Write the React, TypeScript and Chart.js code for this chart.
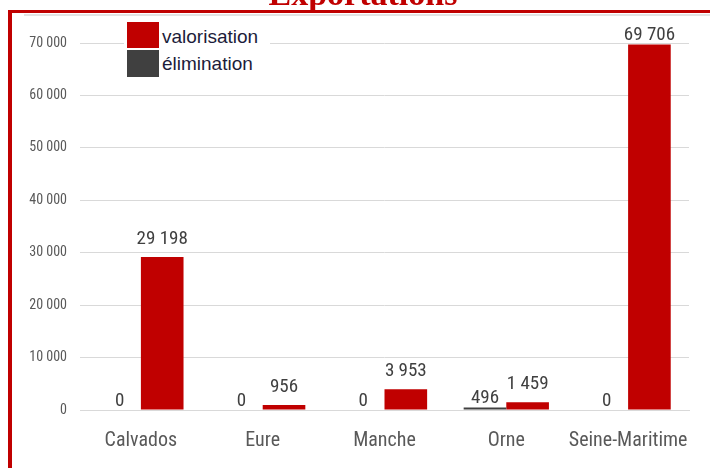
import React, { useEffect, useRef } from "react";
import { Chart, registerables } from "chart.js";

Chart.register(...registerables);

const categories = ["Calvados", "Eure", "Manche", "Orne", "Seine-Maritime"];
const elimination = [0, 0, 0, 496, 0];
const valorisation = [29198, 956, 3953, 1459, 69706];
const yTicks = [0, 10000, 20000, 30000, 40000, 50000, 60000, 70000];
const titleText = "Exportations";
const legendLabels = ["valorisation", "élimination"];

const RED = "#C00000";
const GRAY = "#404040";
const NARROW = "'Liberation Sans Narrow', 'Arial Narrow', 'Roboto Condensed', sans-serif";

const fmt = (n: number) => String(n).replace(/\B(?=(\d{3})+(?!\d))/g, " ");

const dataLabelPlugin = {
  id: "dataLabels",
  afterDatasetsDraw(chart: any) {
    const ctx = chart.ctx;
    ctx.save();
    ctx.font = `19px ${NARROW}`;
    ctx.fillStyle = "#404040";
    ctx.textAlign = "center";
    ctx.textBaseline = "alphabetic";
    chart.data.datasets.forEach((ds: any, di: number) => {
      const meta = chart.getDatasetMeta(di);
      const offset = ds.label === "élimination" ? 4 : 13;
      meta.data.forEach((el: any, i: number) => {
        const v = ds.data[i];
        let y = el.y - offset;
        y = Math.max(y, chart.chartArea.top - 3);
        ctx.fillText(fmt(v), el.x, y);
      });
    });
    ctx.restore();
  },
};

export default function App() {
  const ref = useRef<HTMLCanvasElement>(null);

  useEffect(() => {
    if (!ref.current) return;
    const chart = new Chart(ref.current, {
      type: "bar",
      data: {
        labels: categories,
        datasets: [
          {
            label: "élimination",
            data: elimination,
            backgroundColor: GRAY,
            borderWidth: 0,
          },
          {
            label: "valorisation",
            data: valorisation,
            backgroundColor: RED,
            borderWidth: 0,
          },
        ],
      },
      options: {
        responsive: false,
        animation: false,
        layout: { padding: { left: 0, top: 43, right: 21, bottom: 0 } },
        datasets: {
          bar: { categoryPercentage: 0.7, barPercentage: 1 },
        },
        plugins: {
          legend: { display: false },
          tooltip: { enabled: false },
          title: { display: false },
        },
        scales: {
          x: {
            grid: { display: false, drawTicks: false },
            border: { display: true, color: "#d9d9d9", width: 1 },
            ticks: {
              font: { family: NARROW, size: 20 },
              color: "#595959",
              padding: 19,
              maxRotation: 0,
              autoSkip: false,
            },
            afterFit(scale: any) {
              scale.height = 58;
            },
          },
          y: {
            min: 0,
            max: 70000,
            afterBuildTicks(scale: any) {
              scale.ticks = yTicks.map((v) => ({ value: v }));
            },
            grid: { color: "#d9d9d9", drawTicks: false, lineWidth: 1 },
            border: { display: false },
            ticks: {
              font: { family: NARROW, size: 14 },
              color: "#595959",
              padding: 13,
              callback: (v: any) => fmt(Number(v)),
            },
            afterFit(scale: any) {
              scale.width = 80;
            },
          },
        },
      },
      plugins: [dataLabelPlugin],
    });
    return () => chart.destroy();
  }, []);

  return (
    <div
      style={{
        position: "fixed",
        left: 0,
        top: 0,
        width: 710,
        height: 468,
        background: "#fff",
        overflow: "hidden",
      }}
    >
      <canvas ref={ref} width={710} height={468} style={{ position: "absolute", left: 0, top: 0 }} />
      {/* title (cut off at top) */}
      <div
        style={{
          position: "absolute",
          left: 0,
          width: 726,
          top: -23,
          textAlign: "center",
          font: "bold 34px 'Liberation Serif', 'Times New Roman', serif",
          lineHeight: "34px",
          color: RED,
          whiteSpace: "nowrap",
        }}
      >
        {titleText}
      </div>
      {/* faint line under frame */}
      <div style={{ position: "absolute", left: 24, top: 14, width: 686, height: 2, background: "#e3e3e3" }} />
      {/* red frame */}
      <div style={{ position: "absolute", left: 8, top: 10, width: 702, height: 3, background: RED }} />
      <div style={{ position: "absolute", left: 8, top: 10, width: 4, height: 458, background: RED }} />
      {/* legend */}
      <div style={{ position: "absolute", left: 124, top: 18, width: 146, height: 62, background: "#fff" }} />
      <div style={{ position: "absolute", left: 127, top: 22, width: 32, height: 26, background: RED }} />
      <div style={{ position: "absolute", left: 127, top: 50, width: 32, height: 27, background: GRAY }} />
      <div
        style={{
          position: "absolute",
          left: 162,
          top: 27,
          font: "19px 'Liberation Sans', Arial, sans-serif",
          lineHeight: "19px",
          color: "#1c1c3a",
          whiteSpace: "nowrap",
        }}
      >
        {legendLabels[0]}
      </div>
      <div
        style={{
          position: "absolute",
          left: 162,
          top: 54,
          font: "19px 'Liberation Sans', Arial, sans-serif",
          lineHeight: "19px",
          color: "#1c1c3a",
          whiteSpace: "nowrap",
        }}
      >
        {legendLabels[1]}
      </div>
    </div>
  );
}
